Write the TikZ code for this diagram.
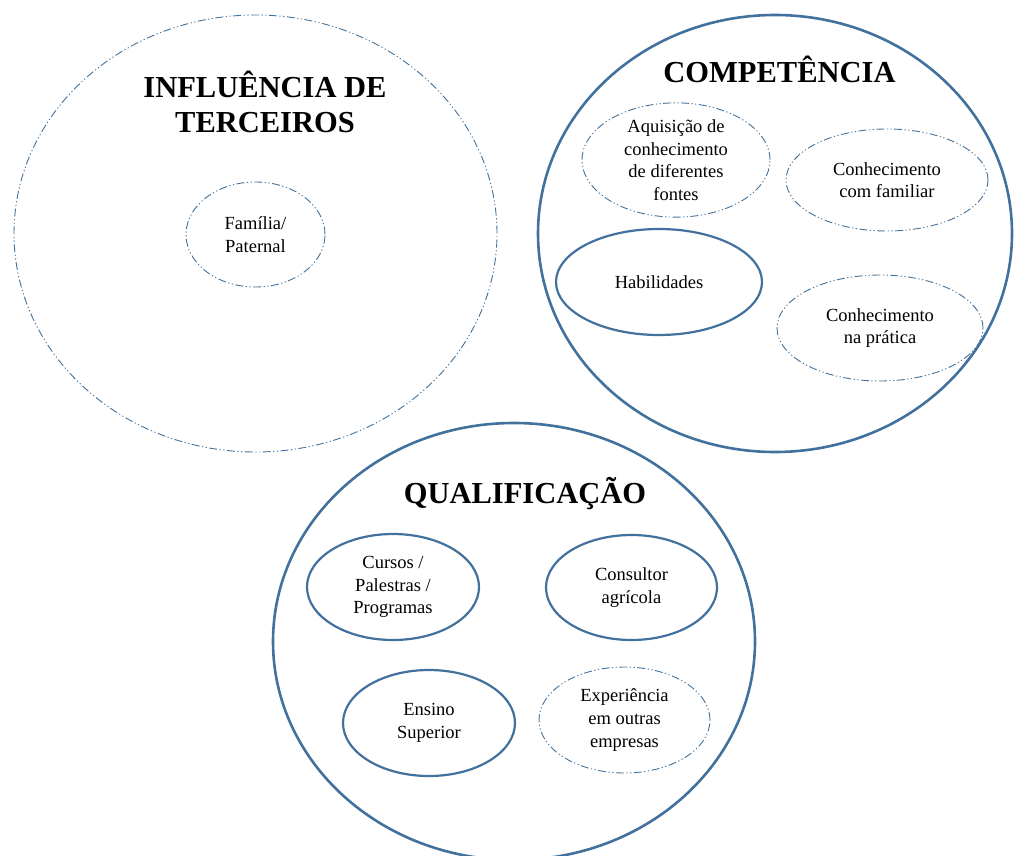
\documentclass[tikz,border=0pt]{standalone}
\usepackage{fontspec}
\setmainfont{Liberation Serif}
\usetikzlibrary{shapes.geometric}
\definecolor{ringblue}{RGB}{65,113,156}
\tikzset{
  dashdotdotline/.style={draw=ringblue, line width=0.9pt, dash pattern=on 8pt off 2.5pt on 1.2pt off 2.5pt on 1.2pt off 2.5pt},
  solidline/.style={draw=ringblue, line width=2.6pt},
  ring/.style={ellipse, inner sep=0pt},
  bubble/.style={ellipse, inner sep=0pt, align=center, font=\fontsize{18.5}{22.6}\selectfont},
  titletext/.style={align=center, font=\fontsize{30.5}{35}\selectfont\bfseries},
}
\begin{document}
\begin{tikzpicture}[x=1pt,y=-1pt]
\useasboundingbox (0,0) rectangle (1014,856);
% big rings
\node[ring, dashdotdotline, minimum width=483pt, minimum height=437pt] (infl) at (255.5,233.5) {};
\node[ring, solidline, minimum width=474pt, minimum height=437pt] (comp) at (775,233.5) {};
\node[ring, solidline, minimum width=482pt, minimum height=437pt] (qual) at (514,641.5) {};
% titles
\node[titletext] (tinfl) at (265,102) {INFLUÊNCIA DE\\TERCEIROS};
\node[titletext] (tcomp) at (779.5,69) {COMPETÊNCIA};
\node[titletext] (tqual) at (525,494) {QUALIFICAÇÃO};
% influência
\node[bubble, dashdotdotline, minimum width=139pt, minimum height=105pt] (fam) at (255.5,234.5) {Família/\\Paternal};
% competência
\node[bubble, dashdotdotline, minimum width=188pt, minimum height=106pt] (aqui) at (676,160) {Aquisição de\\conhecimento\\de diferentes\\fontes};
\node[bubble, dashdotdotline, minimum width=202pt, minimum height=102pt] (cfam) at (887,180) {Conhecimento\\com familiar};
\node[bubble, solidline, line width=2.2pt, minimum width=206pt, minimum height=106pt] (hab) at (659,282) {Habilidades};
\node[bubble, dashdotdotline, minimum width=206pt, minimum height=106pt] (cprat) at (880,328) {Conhecimento\\na prática};
% qualificação
\node[bubble, solidline, line width=2.2pt, minimum width=172pt, minimum height=106pt] (curs) at (393,587) {Cursos /\\Palestras /\\Programas};
\node[bubble, solidline, line width=2.2pt, minimum width=171pt, minimum height=105pt] (cons) at (631.5,587.5) {Consultor\\agrícola};
\node[bubble, solidline, line width=2.2pt, minimum width=172pt, minimum height=106pt] (ens) at (429,723) {Ensino\\Superior};
\node[bubble, dashdotdotline, minimum width=171pt, minimum height=106pt] (exp) at (624.5,720) {Experiência\\em outras\\empresas};
\end{tikzpicture}
\end{document}
